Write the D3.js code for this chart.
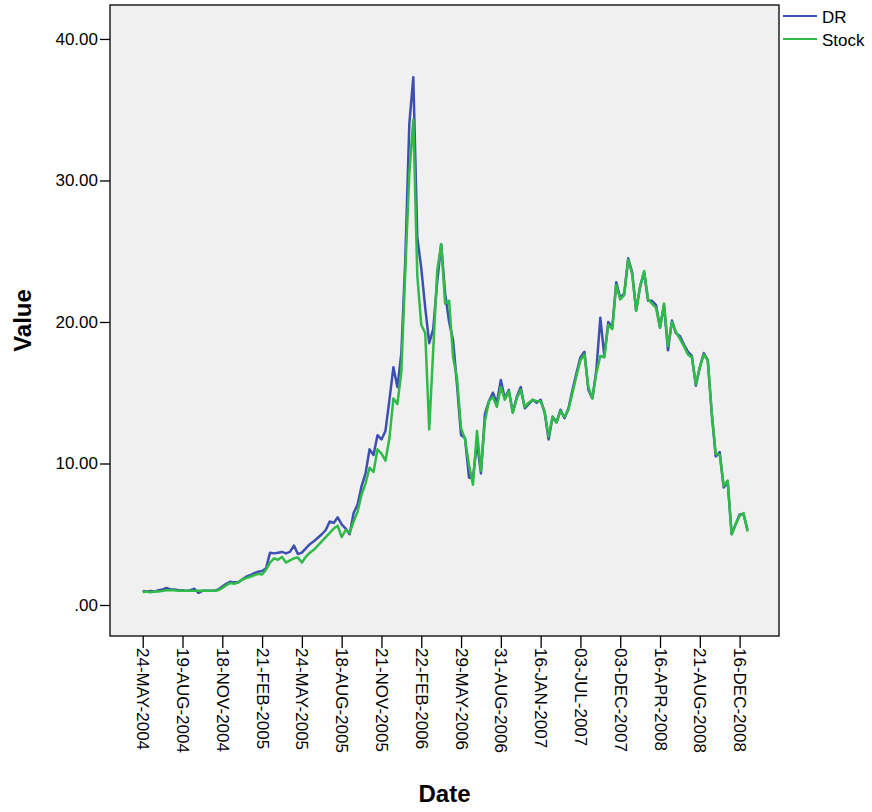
<!DOCTYPE html>
<html>
<head>
<meta charset="utf-8">
<script src="https://cdn.jsdelivr.net/npm/d3@7"></script>
<style>
  body { margin: 0; background: #fff; }
  svg text { font-family: "Liberation Sans", Arial, sans-serif; fill: #000; }
</style>
</head>
<body>
<div id="chart"></div>
<script>
// tick labels on the date axis, one every 10 samples
const dateLabels = ["24-MAY-2004", "19-AUG-2004", "18-NOV-2004", "21-FEB-2005", "24-MAY-2005",
    "18-AUG-2005", "21-NOV-2005", "22-FEB-2006", "29-MAY-2006", "31-AUG-2006", "16-JAN-2007",
    "03-JUL-2007", "03-DEC-2007", "16-APR-2008", "21-AUG-2008", "16-DEC-2008"];
const yTicks = [0, 10, 20, 30, 40];
const seriesNames = ["DR", "Stock"];

const drValues = [
    1.0, 0.95, 1.0, 0.95, 1.05, 1.1, 1.2, 1.1, 1.1, 1.05,
    1.05, 1.0, 1.05, 1.15, 0.85, 1.0, 1.0, 1.0, 1.0, 1.1,
    1.3, 1.5, 1.65, 1.6, 1.6, 1.8, 2.0, 2.1, 2.25, 2.35,
    2.4, 2.6, 3.7, 3.65, 3.7, 3.75, 3.65, 3.75, 4.2, 3.6,
    3.7, 4.0, 4.3, 4.5, 4.75, 5.0, 5.3, 5.9, 5.8, 6.2,
    5.7, 5.4, 5.0, 6.5, 7.1, 8.4, 9.3, 11.0, 10.6, 12.0,
    11.7, 12.3, 14.5, 16.8, 15.4, 17.8, 24.5, 34.0, 37.3, 26.0,
    23.8, 21.0, 18.5, 19.5, 22.8, 25.5, 22.0, 20.0, 18.7, 15.5,
    12.0, 11.8, 9.0, 9.0, 11.5, 9.3, 13.5, 14.4, 15.0, 14.3,
    15.9, 14.6, 15.2, 13.6, 14.7, 15.4, 13.9, 14.2, 14.5, 14.3,
    14.5, 13.6, 11.7, 13.3, 12.9, 13.8, 13.2, 13.9, 15.2, 16.4,
    17.5, 17.9, 15.2, 14.6, 16.6, 20.3, 17.6, 20.0, 19.6, 22.8,
    21.7, 22.0, 24.5, 23.5, 20.8, 22.5, 23.5, 21.5, 21.5, 21.2,
    19.6, 21.2, 18.0, 20.1, 19.2, 19.0, 18.4, 17.9, 17.6, 15.5,
    16.8, 17.8, 17.3, 13.5, 10.5, 10.8, 8.3, 8.7, 5.0, 5.7,
    6.4, 6.4, 5.3
];

const stockValues = [
    0.9, 0.95, 0.9, 0.95, 0.95, 1.0, 1.05, 1.05, 1.05, 1.0,
    1.0, 1.0, 1.0, 1.0, 1.0, 1.0, 1.0, 1.0, 1.0, 1.05,
    1.2, 1.4, 1.55, 1.5, 1.6, 1.8, 1.9, 2.0, 2.1, 2.2,
    2.15, 2.5, 3.0, 3.3, 3.2, 3.4, 3.0, 3.15, 3.3, 3.35,
    3.0, 3.4, 3.7, 3.9, 4.2, 4.5, 4.8, 5.1, 5.4, 5.6,
    4.8, 5.3, 5.1, 5.9, 6.6, 7.8, 8.6, 9.7, 9.4, 11.0,
    10.7, 10.2, 11.8, 14.6, 14.2, 16.5, 23.7, 30.5, 34.3, 23.3,
    19.8, 19.2, 12.4, 18.0, 23.6, 25.5, 21.3, 21.5, 17.5, 16.0,
    12.5, 11.7, 9.9, 8.5, 12.3, 9.5, 13.0, 14.4, 14.7, 14.0,
    15.4, 14.5, 15.1, 13.6, 14.6, 15.2, 14.0, 14.3, 14.5, 14.4,
    14.4, 13.7, 11.9, 13.3, 12.9, 13.7, 13.3, 13.8, 15.0, 16.2,
    17.3, 17.7, 15.4, 14.6, 16.4, 17.6, 17.5, 19.8, 19.5, 22.6,
    21.6, 21.9, 24.4, 23.4, 20.8, 22.5, 23.6, 21.6, 21.3, 21.0,
    19.6, 21.3, 18.3, 20.0, 19.3, 18.8, 18.3, 17.7, 17.5, 15.6,
    16.8, 17.7, 17.3, 13.6, 10.7, 10.6, 8.4, 8.8, 5.0, 5.7,
    6.3, 6.5, 5.2
];

const colors = ["#3d4fb0", "#30bb48"];
const width = 872, height = 812;
const plot = { left: 110, right: 779, top: 5, bottom: 636 };

const svg = d3.select("#chart").append("svg")
    .attr("width", width)
    .attr("height", height);

// scales (x is sample index, ticks every 10 samples)
const xScale = d3.scaleLinear()
    .domain([-8.22, 159.9])
    .range([plot.left, plot.right]);
const yScale = d3.scaleLinear()
    .domain([-2.19, 42.4])
    .range([plot.bottom, plot.top]);

// plot background + frame
svg.append("rect")
    .attr("x", plot.left)
    .attr("y", plot.top)
    .attr("width", plot.right - plot.left)
    .attr("height", plot.bottom - plot.top)
    .attr("fill", "#f0f0f0")
    .attr("stroke", "#000")
    .attr("stroke-width", 1.3);

// axes
const yAxis = d3.axisLeft(yScale)
    .tickValues(yTicks)
    .tickSize(10)
    .tickSizeOuter(0)
    .tickPadding(2)
    .tickFormat(d => d3.format(".2f")(d).replace(/^0/, ""));

const yG = svg.append("g")
    .attr("transform", `translate(${plot.left},0)`)
    .call(yAxis);
yG.select(".domain").remove();
yG.selectAll("line").attr("stroke-width", 1.3);
yG.selectAll("text").style("font-size", "17px");

const xAxis = d3.axisBottom(xScale)
    .tickValues(dateLabels.map((_, i) => i * 10))
    .tickSize(12)
    .tickSizeOuter(0)
    .tickFormat((d, i) => dateLabels[i]);

const xG = svg.append("g")
    .attr("transform", `translate(0,${plot.bottom})`)
    .call(xAxis);
xG.select(".domain").remove();
xG.selectAll("line").attr("stroke-width", 1.3);
xG.selectAll("text")
    .style("font-size", "17px")
    .attr("text-anchor", "start")
    .attr("transform", "rotate(90)")
    .attr("x", 12)
    .attr("y", 0)
    .attr("dy", "0.35em");

// axis titles
svg.append("text")
    .attr("x", (plot.left + plot.right) / 2)
    .attr("y", 802)
    .attr("text-anchor", "middle")
    .style("font-size", "24px")
    .style("font-weight", "bold")
    .text("Date");

svg.append("text")
    .attr("transform", `translate(31,${(plot.top + plot.bottom) / 2}) rotate(-90)`)
    .attr("text-anchor", "middle")
    .style("font-size", "24px")
    .style("font-weight", "bold")
    .text("Value");

// lines
const lineGen = d3.line()
    .x((d, i) => xScale(i))
    .y(d => yScale(d));

[drValues, stockValues].forEach((vals, idx) => {
    svg.append("path")
        .attr("d", lineGen(vals))
        .attr("fill", "none")
        .attr("stroke", colors[idx])
        .attr("stroke-width", 2.5)
        .attr("stroke-linejoin", "round");
});

// legend
const legend = svg.selectAll(".legend")
    .data(seriesNames)
    .enter()
    .append("g")
    .attr("class", "legend")
    .attr("transform", (_, i) => `translate(783, ${16 + i * 23})`);

legend.append("line")
    .attr("x1", 0)
    .attr("x2", 34)
    .attr("stroke", (_, i) => colors[i])
    .attr("stroke-width", 2);

legend.append("text")
    .attr("x", 39)
    .attr("y", 7)
    .style("font-size", "17px")
    .text(d => d);
</script>
</body>
</html>
